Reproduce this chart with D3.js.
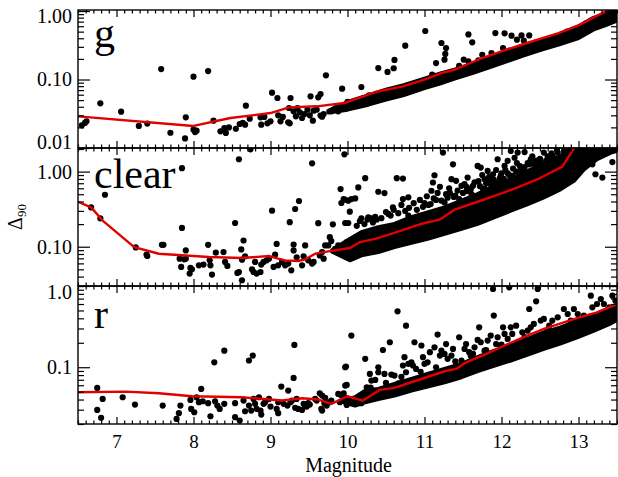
<!DOCTYPE html>
<html><head><meta charset="utf-8">
<script src="https://cdn.jsdelivr.net/npm/d3@7"></script>
<style>body{margin:0;background:#fff}svg{display:block}</style>
</head><body>
<svg id="c" width="618" height="477"></svg>
<script>
// ---------------- DATA ----------------
const panelNames = ["g", "clear", "r"];
const xTicks = [7, 8, 9, 10, 11, 12, 13];
const gTicks = [0.01, 0.1, 1.0];
const gTickLabels = ["0.01", "0.10", "1.00"];
const clearTicks = [0.1, 1.0];
const clearTickLabels = ["0.10", "1.00"];
const rTicks = [0.1, 1.0];
const rTickLabels = ["0.1", "1.0"];

const gPoints = [[6.55,0.0214],[6.59,0.0232],[6.61,0.0245],[6.79,0.0449],[7.06,0.0339],[7.29,0.0210],[7.40,0.0227],[7.58,0.142],[7.70,0.0167],[7.89,0.0138],[7.90,0.0280],[8.00,0.110],[8.00,0.0185],[8.02,0.0171],[8.04,0.0179],[8.19,0.133],[8.26,0.0251],[8.35,0.0175],[8.40,0.0196],[8.42,0.0166],[8.46,0.0200],[8.55,0.0191],[8.60,0.0224],[8.64,0.0232],[8.67,0.0219],[8.68,0.0415],[8.73,0.0268],[8.87,0.0280],[8.88,0.0219],[8.92,0.0284],[8.96,0.0229],[9.00,0.0245],[9.02,0.0643],[9.09,0.0537],[9.10,0.0300],[9.13,0.0245],[9.16,0.0284],[9.23,0.0237],[9.26,0.0537],[9.25,0.0229],[9.24,0.0384],[9.30,0.0343],[9.33,0.0290],[9.35,0.0384],[9.38,0.0332],[9.41,0.0274],[9.44,0.0313],[9.48,0.0363],[9.51,0.0300],[9.52,0.0568],[9.55,0.0251],[9.56,0.0351],[9.60,0.0363],[9.62,0.0549],[9.65,0.0614],[9.65,0.0297],[9.67,0.0287],[9.69,0.0313],[9.72,0.115],[9.79,0.0343],[9.82,0.0363],[9.85,0.0384],[9.88,0.0343],[9.91,0.0406],[9.93,0.0735],[9.96,0.0384],[10.00,0.0470],[10.05,0.0429],[10.09,0.0454],[10.14,0.0491],[10.18,0.0777],[10.21,0.0537],[10.25,0.0508],[10.28,0.0587],[10.33,0.0537],[10.40,0.147],[10.42,0.0525],[10.48,0.0601],[10.52,0.129],[10.57,0.0601],[10.60,0.146],[10.61,0.193],[10.63,0.0635],[10.75,0.312],[11.01,0.511],[11.15,0.174],[11.22,0.341],[11.26,0.195],[11.27,0.236],[11.28,0.288],[11.51,0.195],[11.57,0.456],[11.62,0.349],[11.57,0.184],[11.75,0.230],[11.87,0.244],[11.92,0.477],[12.04,0.472],[12.02,0.288],[12.13,0.436],[12.20,0.382],[12.26,0.441],[12.29,0.369],[12.36,0.441],[11.10,0.118],[11.45,0.158],[11.70,0.190],[12.10,0.265],[12.45,0.350],[12.85,0.500],[13.10,0.660]];
// dense band: [magnitude, lower, upper]
const gBand = [[9.75,0.0330,0.0350],[10.00,0.0363,0.0470],[10.27,0.0429,0.0587],[10.50,0.0508,0.0711],[10.72,0.0587,0.0822],[11.00,0.0751,0.103],[11.22,0.0889,0.124],[11.39,0.103,0.139],[11.62,0.124,0.168],[11.84,0.151,0.211],[12.00,0.174,0.244],[12.29,0.225,0.315],[12.52,0.273,0.369],[12.74,0.323,0.451],[13.00,0.404,0.597],[13.19,0.534,0.790],[13.37,0.631,0.935],[13.50,0.722,1.03]];
const gLine = [[6.5,0.0290],[8.00,0.0210],[8.48,0.0274],[9.00,0.0324],[9.24,0.0392],[9.60,0.0406],[9.96,0.0454],[10.36,0.0657],[10.72,0.0795],[11.00,0.0995],[11.22,0.124],[11.39,0.139],[11.75,0.206],[12.00,0.258],[12.29,0.330],[12.74,0.477],[13.00,0.618],[13.37,1.01],[13.5,1.15]];

const clearPoints = [[6.67,0.334],[6.79,0.239],[6.85,0.492],[7.25,0.0979],[7.39,0.0783],[7.40,0.0752],[7.59,0.106],[7.61,0.106],[7.85,1.11],[7.85,0.178],[7.82,0.0693],[7.84,0.0538],[7.88,0.0679],[7.90,0.0893],[7.90,0.0693],[7.96,0.0522],[7.98,0.0501],[7.95,0.0439],[8.07,0.0566],[8.13,0.0578],[8.19,0.106],[8.21,0.0659],[8.22,0.0566],[8.24,0.0426],[8.29,0.0832],[8.39,0.0849],[8.41,0.0627],[8.44,0.0555],[8.54,0.207],[8.59,1.46],[8.57,0.0448],[8.59,0.0461],[8.62,0.0921],[8.65,0.121],[8.63,0.0673],[8.67,0.0745],[8.63,0.0358],[8.74,1.98],[8.76,0.0501],[8.78,0.0461],[8.80,0.0627],[8.82,0.0439],[8.87,0.0461],[8.88,0.0578],[8.91,0.0627],[8.95,0.0659],[8.98,0.0693],[9.02,0.302],[9.04,0.0538],[9.06,0.0783],[9.08,0.109],[9.10,0.0566],[9.15,0.0627],[9.19,0.0566],[9.23,0.0596],[9.25,0.212],[9.27,0.0485],[9.30,0.107],[9.30,0.0893],[9.32,0.318],[9.34,0.0722],[9.37,0.406],[9.41,0.0566],[9.43,0.0745],[9.45,0.104],[9.49,0.0659],[9.54,1.29],[9.54,0.0596],[9.56,0.0627],[9.62,0.206],[9.64,0.0767],[9.67,0.0849],[9.69,0.0693],[9.71,0.104],[9.75,0.104],[9.77,0.134],[9.79,0.119],[9.81,0.199],[9.84,0.0940],[9.88,0.104],[9.91,0.585],[9.92,0.382],[9.95,0.431],[9.96,1.70],[9.97,0.207],[9.99,0.115],[10.01,0.410],[10.00,0.0767],
[9.97,0.422],[10.01,0.207],[10.03,0.293],[10.05,0.431],[10.10,0.440],[10.14,0.615],[10.23,0.817],[10.18,0.239],[10.27,0.247],[10.31,0.239],[10.38,0.230],[10.40,0.539],[10.48,0.518],[10.53,0.273],[10.59,0.334],[10.64,0.817],[10.72,0.809],[10.72,0.431],[10.79,0.454],[10.79,0.259],[10.87,0.230],[11.00,0.382],[11.09,0.556],[11.11,0.716],[11.13,0.895],[11.20,0.628],[11.24,1.79],[11.26,0.389],[11.35,0.792],[11.37,1.25],[11.41,0.753],[11.45,0.431],[11.48,0.647],[11.52,0.681],[11.56,0.834],[11.61,0.502],[11.63,0.647],[11.69,1.19],[11.73,1.13],[11.76,0.585],[11.78,0.792],[11.82,1.02],[11.86,0.681],[11.89,0.923],[11.95,1.46],[11.99,0.877],[12.04,1.19],[12.08,1.39],[12.12,1.88],[12.17,1.53],[12.21,1.79],[12.30,1.82],[12.36,1.25],[12.38,1.46],[12.45,1.19],[12.51,1.32],[12.55,1.79],[12.62,1.39],[12.73,1.79],[12.81,1.88],[12.99,1.98],[13.07,1.53],[13.18,1.25],[13.22,0.923],[13.29,1.88],[13.31,0.834],[13.44,1.34],
[11.70,0.75],[11.75,0.90],[11.80,0.70],[11.84,0.85],[11.90,0.78],[11.93,1.05],[11.97,0.72],[12.00,0.95],[12.05,1.05],[12.10,0.90],[12.15,1.10],[12.20,1.30],[12.25,1.05],[12.30,1.15],[12.40,1.60],[12.45,1.40],[12.60,1.60],[12.65,1.75],[12.70,1.50],[11.30,0.45],[11.33,0.52],[11.40,0.48],[11.55,0.55],[11.05,0.36],[11.15,0.42],
[10.12,0.19],[10.16,0.22],[10.22,0.20],[10.26,0.23],[10.33,0.21],[10.36,0.25],[10.44,0.24],[10.50,0.29],[10.56,0.26],[10.60,0.31],[10.66,0.28],[10.70,0.36],[10.75,0.30],[10.80,0.33],[10.86,0.38],[10.90,0.31],[10.94,0.42],[10.98,0.34],[11.03,0.47],[11.08,0.37],[11.12,0.44],[11.17,0.52],[11.22,0.41],[11.28,0.50],[11.32,0.60],[11.38,0.46],[11.43,0.56],[11.50,0.52],[11.55,0.62],[11.60,0.58],[11.65,0.72],[11.72,0.64],[11.78,0.60],[11.85,0.74],[11.92,0.70],[11.98,0.82],[12.03,0.80],[12.08,0.95],[12.14,0.88],[12.19,1.00],[12.24,1.18],[12.28,0.98],[12.34,1.30],[12.42,1.25],[12.50,1.48],[12.58,1.40],[12.66,1.62],[12.72,1.95],[12.85,1.70]];
const clearBand = [[9.80,0.086,0.090],[10.03,0.0659,0.127],[10.18,0.0767,0.156],[10.40,0.0849,0.182],[10.61,0.0989,0.201],[10.83,0.113,0.247],[11.04,0.127,0.287],[11.26,0.148,0.334],[11.48,0.173,0.410],[11.69,0.201,0.502],[11.91,0.247,0.647],[12.12,0.302,0.792],[12.34,0.370,1.02],[12.55,0.454,1.25],[12.77,0.585,1.61],[12.94,0.753,2.2],[13.07,1.07,2.2],[13.24,1.46,2.2],[13.42,1.79,2.2],[13.5,1.88,2.2]];
const clearLine = [[6.5,0.397],[6.67,0.334],[6.82,0.223],[7.23,0.0989],[7.55,0.0807],[8.20,0.0729],[8.63,0.0708],[8.98,0.0752],[9.10,0.0693],[9.19,0.0659],[9.36,0.0645],[9.45,0.0679],[9.58,0.0807],[9.75,0.0867],[10.03,0.0960],[10.16,0.115],[10.36,0.127],[10.61,0.153],[10.83,0.182],[11.00,0.207],[11.20,0.230],[11.39,0.311],[11.69,0.397],[11.91,0.477],[12.21,0.615],[12.47,0.792],[12.79,1.165],[12.96,2.2],[13.0,2.6]];

const rPoints = [[6.75,0.0556],[6.75,0.0298],[6.80,0.0238],[6.82,0.0407],[7.08,0.0427],[7.24,0.0347],[7.60,0.0337],[7.78,0.0231],[7.81,0.0272],[7.83,0.0337],[7.96,0.0396],[7.97,0.0307],[8.01,0.0279],[8.04,0.0427],[8.07,0.0371],[8.10,0.0541],[8.12,0.0381],[8.19,0.0361],[8.22,0.0249],[8.27,0.115],[8.28,0.0381],[8.31,0.0337],[8.34,0.0307],[8.40,0.160],[8.40,0.0354],[8.54,0.0361],[8.54,0.0243],[8.60,0.0221],[8.65,0.0389],[8.67,0.0287],[8.72,0.0337],[8.72,0.121],[8.75,0.0293],[8.77,0.139],[8.78,0.0407],[8.80,0.0354],[8.82,0.0307],[8.85,0.0427],[8.87,0.0293],[8.88,0.0261],[8.91,0.0354],[8.93,0.0371],[8.98,0.0407],[9.00,0.0328],[9.08,0.0307],[9.10,0.0371],[9.10,0.0272],[9.14,0.0578],[9.17,0.0354],[9.22,0.0337],[9.23,0.0516],[9.26,0.0371],[9.28,0.0389],[9.30,0.0739],[9.31,0.188],[9.32,0.0316],[9.34,0.0407],[9.36,0.0307],[9.41,0.0298],[9.43,0.0354],[9.45,0.0337],[9.47,0.0328],[9.49,0.0361],[9.51,0.0347],[9.58,0.0407],[9.60,0.0389],[9.64,0.0478],[9.66,0.0307],[9.67,0.0293],[9.67,0.0448],[9.70,0.0361],[9.71,0.0419],[9.73,0.0337],[9.77,0.0371],[9.79,0.0389],[9.88,0.0469],[9.90,0.0371],[9.92,0.0448],[9.95,0.0478],[9.96,0.0427],[9.98,0.102],[9.99,0.0606],[9.99,0.0343],
[9.97,0.0594],[9.97,0.100],[10.05,0.245],[10.18,0.0361],[10.23,0.127],[10.25,0.0567],[10.29,0.0827],[10.31,0.0685],[10.36,0.0698],[10.40,0.100],[10.40,0.0867],[10.46,0.163],[10.48,0.0827],[10.55,0.203],[10.57,0.0811],[10.61,0.0789],[10.65,0.488],[10.66,0.0635],[10.72,0.105],[10.74,0.133],[10.76,0.325],[10.76,0.0867],[10.79,0.110],[10.83,0.115],[10.85,0.105],[10.87,0.203],[10.89,0.0953],[10.96,0.185],[10.98,0.133],[11.00,0.110],[11.04,0.115],[11.07,0.153],[11.13,0.176],[11.17,0.252],[11.20,0.139],[11.22,0.160],[11.26,0.146],[11.28,0.193],[11.30,0.127],[11.35,0.139],[11.37,0.168],[11.45,0.234],[11.48,0.121],[11.52,0.168],[11.54,0.193],[11.58,0.153],[11.63,0.146],[11.65,0.176],[11.69,0.217],[11.71,0.310],[11.73,0.203],[11.78,0.160],[11.82,0.213],[11.86,0.245],[11.89,0.919],[11.90,0.432],[11.93,0.193],[11.95,0.234],[11.99,0.176],[12.02,0.310],[12.04,0.257],[12.08,0.223],[12.10,0.963],[12.12,0.310],[12.14,0.257],[12.19,0.325],[12.21,0.203],[12.27,0.269],[12.34,0.282],[12.36,0.521],[12.38,0.310],[12.42,0.341],[12.45,0.648],[12.47,0.919],[12.51,0.375],[12.55,0.393],[12.62,0.325],[12.66,0.375],[12.73,0.412],[12.81,0.521],[12.86,0.452],[12.90,0.375],[12.94,0.521],[12.99,0.452],[13.07,0.432],[13.16,0.760],[13.18,0.547],[13.24,0.600],[13.29,0.692],[13.33,0.600],[13.40,0.547],[13.44,0.760],[13.48,0.660],
[10.05,0.0370],[10.10,0.0400],[10.14,0.0365],[10.30,0.0560],[10.50,0.0640],[10.70,0.0760],[10.95,0.0880],[11.15,0.100],[11.40,0.118],[11.60,0.138],[11.80,0.162],[12.00,0.190],[12.30,0.235],[12.60,0.290],[12.90,0.350],[13.15,0.420]];
const rBand = [[9.95,0.0370,0.0390],[10.10,0.0337,0.0427],[10.23,0.0371,0.0516],[10.40,0.0407,0.0541],[10.61,0.0448,0.0623],[10.83,0.0516,0.0718],[11.04,0.0578,0.0827],[11.26,0.0653,0.0953],[11.48,0.0753,0.110],[11.69,0.0893,0.133],[11.91,0.105,0.160],[12.12,0.121,0.185],[12.34,0.143,0.223],[12.55,0.168,0.269],[12.77,0.197,0.310],[12.99,0.234,0.375],[13.20,0.282,0.432],[13.42,0.347,0.547],[13.52,0.393,0.600]];
const rLine = [[6.5,0.0492],[7.12,0.0501],[7.55,0.0478],[7.98,0.0439],[8.63,0.0427],[9.15,0.0389],[9.41,0.0415],[9.62,0.0400],[9.79,0.0354],[10.0,0.0439],[10.20,0.0389],[10.42,0.0526],[10.61,0.0556],[10.83,0.0653],[11.26,0.0892],[11.41,0.0953],[11.54,0.115],[11.78,0.143],[12.04,0.185],[12.25,0.227],[12.55,0.296],[12.99,0.404],[13.24,0.474],[13.42,0.557],[13.52,0.601]];

// ---------------- LAYOUT ----------------
const FONT = "'Liberation Serif', 'DejaVu Serif', serif";
const RED = "#e00000";
const L = 78, R = 617;
const svg = d3.select("#c");
const x = d3.scaleLinear().domain([6.5, 13.5]).range([L, R]);

const panels = [
  {name: panelNames[0], top: 10, bottom: 148, domain: [0.01, 1.035], range: [148, 10], ticks: gTicks, labels: gTickLabels, pts: gPoints, band: gBand, line: gLine, ly: 47},
  {name: panelNames[1], top: 148, bottom: 286, domain: [0.03, 2.0], range: [286, 149], ticks: clearTicks, labels: clearTickLabels, pts: clearPoints, band: clearBand, line: clearLine, ly: 188},
  {name: panelNames[2], top: 286, bottom: 424, domain: [0.02, 1.0], range: [424, 286], ticks: rTicks, labels: rTickLabels, pts: rPoints, band: rBand, line: rLine, ly: 328}
];

function minorLog(domain) {
  const out = [];
  for (let e = -3; e <= 1; e++) {
    for (let m = 2; m <= 9; m++) {
      const v = m * Math.pow(10, e);
      if (v >= domain[0] * 0.999 && v <= domain[1] * 1.001) out.push(+v.toPrecision(3));
    }
  }
  return out;
}
const xMinor = d3.range(65, 136).map(d => d / 10).filter(d => !xTicks.includes(d));

const defs = svg.append("defs");

panels.forEach((p, i) => {
  const y = d3.scaleLog().domain(p.domain).range(p.range);
  const clipId = "clip" + i;
  defs.append("clipPath").attr("id", clipId)
    .append("rect").attr("x", L).attr("y", p.top).attr("width", R - L).attr("height", p.bottom - p.top);

  const plot = svg.append("g").attr("clip-path", `url(#${clipId})`);
  plot.append("path").datum(p.band)
    .attr("d", d3.area().x(d => x(d[0])).y0(d => y(d[1])).y1(d => y(d[2])))
    .attr("fill", "#000").attr("stroke", "#000").attr("stroke-width", 4).attr("stroke-linejoin", "round");
  plot.append("g").selectAll("circle").data(p.pts).join("circle")
    .attr("cx", d => x(d[0])).attr("cy", d => y(d[1])).attr("r", 3.1).attr("fill", "#000");
  plot.append("path").datum(p.line)
    .attr("d", d3.line().x(d => x(d[0])).y(d => y(d[1])))
    .attr("fill", "none").attr("stroke", RED).attr("stroke-width", 2.4).attr("stroke-linejoin", "round");

  // y axes (ticks inward)
  const yl = svg.append("g").attr("transform", `translate(${L},0)`)
    .call(d3.axisLeft(y).tickValues(p.ticks).tickFormat((d, k) => p.labels[k]).tickSize(-12).tickPadding(6));
  yl.select(".domain").remove();
  yl.selectAll(".tick text")
    .attr("font-family", FONT).attr("font-size", 20).attr("fill", "#000")
    .attr("y", d => { const yy = y(d); return Math.max(p.top + 6 - yy, Math.min(p.bottom - 5.5 - yy, 0)); });
  const ylm = svg.append("g").attr("transform", `translate(${L},0)`)
    .call(d3.axisLeft(y).tickValues(minorLog(p.domain)).tickFormat("").tickSize(-6));
  ylm.select(".domain").remove();
  const yr = svg.append("g").attr("transform", `translate(${R},0)`)
    .call(d3.axisRight(y).tickValues(p.ticks).tickFormat("").tickSize(-12));
  yr.select(".domain").remove();
  const yrm = svg.append("g").attr("transform", `translate(${R},0)`)
    .call(d3.axisRight(y).tickValues(minorLog(p.domain)).tickFormat("").tickSize(-6));
  yrm.select(".domain").remove();

  // x axes top & bottom (ticks inward)
  const xb = svg.append("g").attr("transform", `translate(0,${p.bottom})`)
    .call(d3.axisBottom(x).tickValues(xTicks).tickFormat(i === 2 ? d3.format("d") : "").tickSize(-7).tickPadding(11));
  xb.select(".domain").remove();
  xb.selectAll(".tick text").attr("font-family", FONT).attr("font-size", 19).attr("fill", "#000");
  const xbm = svg.append("g").attr("transform", `translate(0,${p.bottom})`)
    .call(d3.axisBottom(x).tickValues(xMinor).tickFormat("").tickSize(-3.5));
  xbm.select(".domain").remove();
  const xt = svg.append("g").attr("transform", `translate(0,${p.top})`)
    .call(d3.axisTop(x).tickValues(xTicks).tickFormat("").tickSize(-7));
  xt.select(".domain").remove();
  const xtm = svg.append("g").attr("transform", `translate(0,${p.top})`)
    .call(d3.axisTop(x).tickValues(xMinor).tickFormat("").tickSize(-3.5));
  xtm.select(".domain").remove();
  svg.selectAll(".tick line").attr("stroke", "#000").attr("stroke-width", 1.2);

  // frame
  svg.append("rect").attr("x", L).attr("y", p.top).attr("width", R - L).attr("height", p.bottom - p.top)
    .attr("fill", "none").attr("stroke", "#000").attr("stroke-width", 1.4);

  // panel label
  svg.append("text").attr("x", 94).attr("y", p.ly).text(p.name)
    .attr("font-family", FONT).attr("font-size", 42).attr("fill", "#000");
});

// axis titles
svg.append("text").attr("x", (L + R) / 2 + 1).attr("y", 472).attr("text-anchor", "middle")
  .attr("font-family", FONT).attr("font-size", 20).attr("fill", "#000").text("Magnitude");
const yt = svg.append("text").attr("transform", "translate(22,217) rotate(-90)").attr("text-anchor", "middle")
  .attr("font-family", FONT).attr("font-size", 20).attr("fill", "#000");
yt.append("tspan").text("Δ");
yt.append("tspan").attr("font-size", 13).attr("dy", 4).text("90");
</script>
</body></html>
